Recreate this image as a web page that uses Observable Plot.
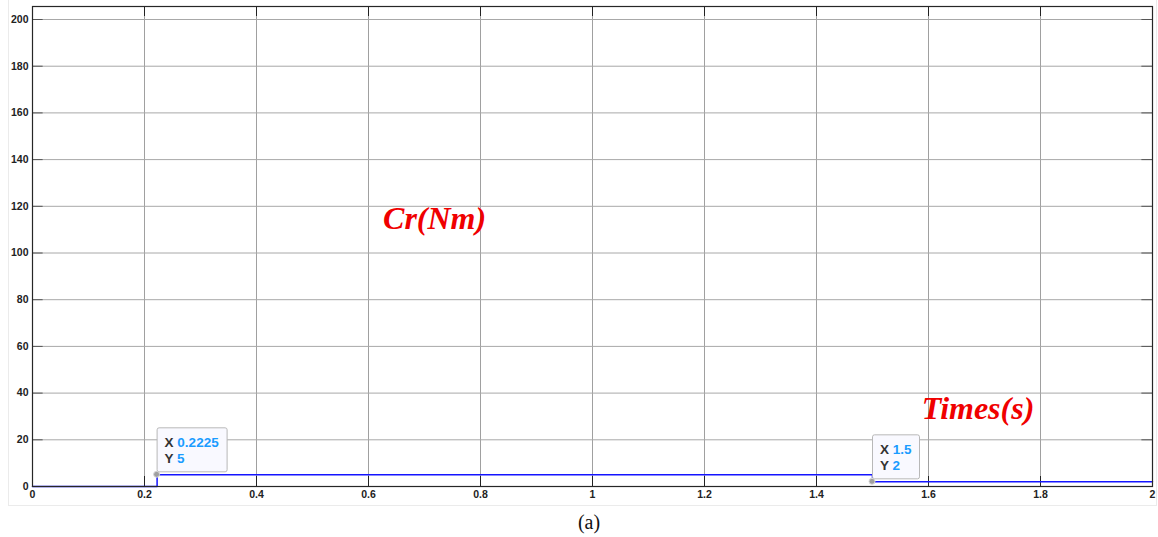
<!DOCTYPE html>
<html>
<head>
<meta charset="utf-8">
<script src="https://cdn.jsdelivr.net/npm/d3@7"></script>
<script src="https://cdn.jsdelivr.net/npm/@observablehq/plot@0.6"></script>
<style>
  html, body { margin: 0; padding: 0; background: #fff; }
  #wrap { position: relative; width: 1158px; height: 537px; }
  #panel { position: absolute; left: 8px; top: 0; width: 1149px; height: 506px; border-left: 1px solid #ebebeb; border-right: 1px solid #ebebeb; border-bottom: 1px solid #ebebeb; box-sizing: border-box; }
  #chart { position: absolute; left: 0; top: 0; }
  #caption { position: absolute; left: 0; top: 510px; width: 1178px; text-align: center; font-family: "Liberation Serif", serif; font-size: 20px; line-height: 24px; color: #111; }
</style>
</head>
<body>
<div id="wrap">
  <div id="panel"></div>
  <div id="chart"></div>
  <div id="caption">(a)</div>
</div>
<script>
// ---- data ----
const timeS  = [0, 0.2225, 1.5, 2];
const torque = [0, 5, 2, 2];
const xTicks = [0, 0.2, 0.4, 0.6, 0.8, 1, 1.2, 1.4, 1.6, 1.8, 2];
const xTickLabels = ["0", "0.2", "0.4", "0.6", "0.8", "1", "1.2", "1.4", "1.6", "1.8", "2"];
const yTicks = [0, 20, 40, 60, 80, 100, 120, 140, 160, 180, 200];
const tipX = [0.2225, 1.5];
const tipY = [5, 2];
const tipXLabel = ["0.2225", "1.5"];
const tipYLabel = ["5", "2"];
const noteText = ["Cr(Nm)", "Times(s)"];
const noteX = [0.626, 1.588];
const noteY = [114.5, 33.5];

const series = timeS.map((t, i) => ({t, v: torque[i]}));
const tips = tipX.map((x, i) => ({x, y: tipY[i], xs: tipXLabel[i], ys: tipYLabel[i]}));
const notes = noteText.map((s, i) => ({s, x: noteX[i], y: noteY[i]}));

const W = 1158, H = 510, mT = 6, mB = 24, mL = 32, mR = 6;
const innerH = H - mT - mB;

function dataTips(index, scales) {
  const g = d3.create("svg:g").attr("text-anchor", "start");
  for (const d of tips) {
    const px = scales.x(d.x), py = scales.y(d.y);
    const grp = g.append("g").attr("transform", `translate(${px},${py})`);
    const box = grp.append("rect")
      .attr("x", 0.5).attr("y", -46.5).attr("height", 44).attr("rx", 2)
      .attr("fill", "#f9f9ff").attr("stroke", "#b8b8b8").attr("stroke-width", 1);
    const txt = grp.append("g")
      .attr("font-family", "'Liberation Sans', Arial, sans-serif")
      .attr("font-weight", "bold").attr("font-size", 13.5).attr("text-anchor", "start");
    const t1 = txt.append("text").attr("x", 8).attr("y", -27);
    t1.append("tspan").attr("fill", "#333").text("X ");
    t1.append("tspan").attr("fill", "#1a9cff").text(d.xs);
    const t2 = txt.append("text").attr("x", 8).attr("y", -11);
    t2.append("tspan").attr("fill", "#333").text("Y ");
    t2.append("tspan").attr("fill", "#1a9cff").text(d.ys);
    box.attr("width", d.xs.length > 4 ? 70 : 47);
    grp.append("circle").attr("r", 3).attr("fill", "#a0a0a0").attr("stroke", "#d8d8d8").attr("stroke-width", 1);
  }
  return g.node();
}

const chart = Plot.plot({
  width: W, height: H,
  marginTop: mT, marginBottom: mB, marginLeft: mL, marginRight: mR,
  style: { background: "transparent", fontFamily: "'Liberation Sans', Arial, sans-serif" },
  x: { domain: [0, 2] },
  y: { domain: [0, 205.57] },
  marks: [
    Plot.gridX(xTicks, { stroke: "#a0a0a0", strokeOpacity: 1 }),
    Plot.gridY(yTicks, { stroke: "#a8a8a8", strokeOpacity: 1 }),
    // inward tick marks
    Plot.ruleX(xTicks, { stroke: "#222", insetTop: innerH - 10 }),
    Plot.ruleX(xTicks, { stroke: "#222", insetBottom: innerH - 10 }),
    Plot.ruleY(yTicks, { stroke: "#555", x1: 0, x2: 0.019 }),
    Plot.ruleY(yTicks, { stroke: "#555", x1: 2 - 0.019, x2: 2 }),
    Plot.axisX(xTicks, { tickSize: 0, tickPadding: 4, tickFormat: (d, i) => xTickLabels[i], fontWeight: "bold", fontSize: 10.5, fill: "#222", label: null }),
    Plot.axisY(yTicks, { tickSize: 0, tickPadding: 4, fontWeight: "bold", fontSize: 10.5, fill: "#222", label: null }),
    Plot.line(series, { x: "t", y: "v", curve: "step-after", stroke: "#1414ff", strokeWidth: 1.5 }),
    Plot.frame({ stroke: "#262626", strokeWidth: 1.2 }),
    Plot.text(notes, { x: "x", y: "y", text: "s", textAnchor: "start", fill: "#f00000",
      fontFamily: "'Liberation Serif', 'Times New Roman', serif", fontStyle: "italic", fontWeight: "bold", fontSize: 32 }),
    dataTips
  ]
});
document.getElementById("chart").appendChild(chart);
</script>
</body>
</html>
